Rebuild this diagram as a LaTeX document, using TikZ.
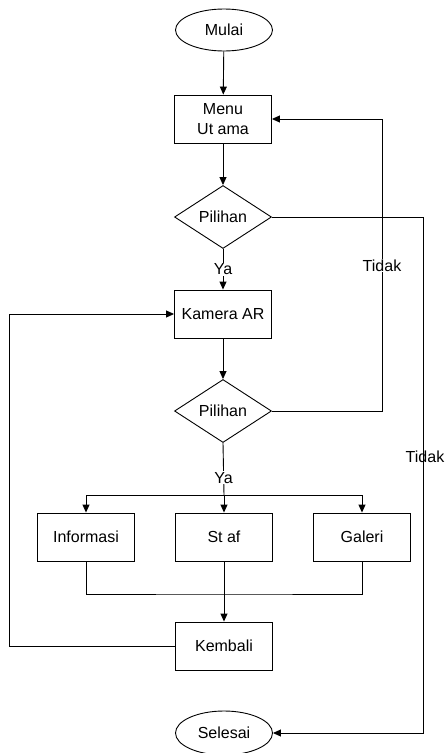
\documentclass[tikz,border=0pt]{standalone}
\usepackage{fontspec}
\setmainfont{Liberation Sans}
\usetikzlibrary{shapes.geometric,arrows.meta}
\begin{document}
\begin{tikzpicture}[x=1pt,y=-1pt,
  line width=0.9pt,
  every node/.style={font=\fontsize{16}{20}\selectfont},
  terminal/.style={draw,ellipse,minimum width=97pt,minimum height=42pt,inner sep=0pt},
  process/.style={draw,rectangle,minimum width=97pt,minimum height=48pt,inner sep=0pt,align=center},
  decision/.style={draw,diamond,shape aspect=1.54,minimum width=97pt,minimum height=63pt,inner sep=0pt},
  flow/.style={-{Triangle[length=8pt,width=7pt]}},
  lbl/.style={fill=white,inner sep=1pt}]
\useasboundingbox (0,0) rectangle (445,753);

% nodes
\node[terminal] (mulai) at (224,30) {Mulai};
\node[process] (menu) at (223,119) {Menu\\Ut ama};
\node[decision] (d1) at (223,217) {Pilihan};
\node[process] (kam) at (223,314) {Kamera AR};
\node[decision] (d2) at (223,411) {Pilihan};
\node[process] (inf) at (86,537) {Informasi};
\node[process] (stf) at (224,537) {St af};
\node[process] (gal) at (362,537) {Galeri};
\node[process] (kem) at (224,646) {Kembali};
\node[terminal,minimum height=44pt] (sel) at (224,733) {Selesai};

% routing points
\coordinate (br) at (224,495);
\coordinate (mg) at (224,594);
\coordinate (lft) at (9,0);
\coordinate (rt1) at (382,0);
\coordinate (rt2) at (423,0);

% main flow
\draw[flow] (mulai) -- (menu);
\draw[flow] (menu) -- (d1);
\draw[flow] (d1.south) -- node[lbl] (ya1) {Ya} (kam.north);
\draw[flow] (kam) -- (d2);
\draw (d2.south) -- node[lbl,pos=0.67] (ya2) {Ya} (br);
\draw[flow] (br) -- (stf.north);
\draw[flow] (br) -| (inf.north);
\draw[flow] (br) -| (gal.north);
\draw (inf.south) |- (mg) -| (gal.south);
\draw[flow] (stf.south) -- (kem.north);
\draw[flow] (kem.west) -- (kem.west -| lft) |- (kam.west);

% "Tidak" branches
\draw[flow] (d2.east) -- (d2.east -| rt1) |- node[lbl,pos=0.249] (td1) {Tidak} (menu.east);
\draw[flow] (d1.east) -- (d1.east -| rt2) |- (sel.east);
\node (td2) at (425,457) {Tidak};
\end{tikzpicture}
\end{document}
